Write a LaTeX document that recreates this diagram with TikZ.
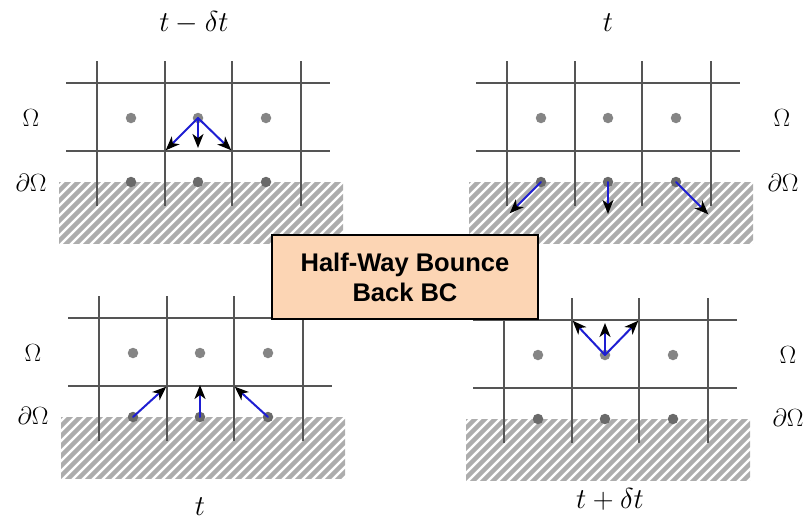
\documentclass[tikz,border=0pt]{standalone}
\usepackage[no-math]{fontspec}
\usepackage{graphicx}
\newfontfamily\boxfont{Liberation Sans}
\usetikzlibrary{arrows.meta}
\definecolor{gridc}{HTML}{555555}
\definecolor{hatchc}{HTML}{ADADAD}
\definecolor{dotin}{HTML}{858585}
\definecolor{dotbd}{HTML}{6A6A6A}
\definecolor{flowc}{RGB}{30,30,210}
\definecolor{boxc}{HTML}{FCD5B4}
\tikzset{
  gridline/.style={draw=gridc, line width=1.8pt},
  hatchline/.style={draw=hatchc, line width=4.4pt},
  dotstyle/.style={circle, inner sep=0pt, minimum size=10.5pt},
  dotinner/.style={dotstyle, fill=dotin},
  dotbound/.style={dotstyle, fill=dotbd},
  flow/.style={draw=flowc, line width=2pt, line cap=round,
    -{Stealth[length=14pt,width=11pt,inset=4pt,color=black]}, shorten >=1pt},
  lab/.style={font=\fontsize{24.88}{30}\selectfont, inner sep=0pt},
  panel/.pic={
    \begin{scope}
      \clip (-38,99) rectangle (246,160);
      \foreach \i in {-110,-100,...,250}
        \draw[hatchline] (\i,170) -- ++(80,-80);
    \end{scope}
    \foreach \x in {0,68,135,204}
      \draw[gridline] (\x,-22) -- (\x,123);
    \foreach \y in {0,68}
      \draw[gridline] (-31,\y) -- (233,\y);
    \node[dotinner] (-a1) at (34,35) {};
    \node[dotinner] (-a2) at (101,35) {};
    \node[dotinner] (-a3) at (169,35) {};
    \node[dotbound] (-b1) at (34,99) {};
    \node[dotbound] (-b2) at (101,99) {};
    \node[dotbound] (-b3) at (169,99) {};
    \coordinate (-u1) at (68,0);
    \coordinate (-u2) at (101,2);
    \coordinate (-u3) at (135,0);
    \coordinate (-k1) at (68,68);
    \coordinate (-k2) at (101,66);
    \coordinate (-k3) at (135,68);
    \coordinate (-q1) at (2,131);
    \coordinate (-q2) at (101,132);
    \coordinate (-q3) at (202,132);
  }
}
\begin{document}
\begin{tikzpicture}[x=1pt,y=-1pt]
\useasboundingbox (0,0) rectangle (804,522);

\pic (tl) at (97,83) {panel};
\pic (tr) at (507,83) {panel};
\pic (bl) at (99,318) {panel};
\pic (br) at (504,320) {panel};

% arrows
\draw[flow] (tl-a2.center) -- (tl-k1);
\draw[flow] (tl-a2.center) -- (tl-k2);
\draw[flow] (tl-a2.center) -- (tl-k3);

\draw[flow] (tr-b1.center) -- (tr-q1);
\draw[flow] (tr-b2.center) -- (tr-q2);
\draw[flow] (tr-b3.center) -- (tr-q3);

\draw[flow] (bl-b1.center) -- (bl-k1);
\draw[flow] (bl-b2.center) -- (bl-k2);
\draw[flow] (bl-b3.center) -- (bl-k3);

\draw[flow] (br-a2.center) -- (br-u1);
\draw[flow] (br-a2.center) -- (br-u2);
\draw[flow] (br-a2.center) -- (br-u3);

% labels
\node[lab] (tlO) at (31,118) {$\Omega$};
\node[lab] (tlD) at (31,183) {$\partial\Omega$};
\node[lab] (trO) at (782,118) {$\Omega$};
\node[lab] (trD) at (783,183) {$\partial\Omega$};
\node[lab] (blO) at (33,353) {$\Omega$};
\node[lab] (blD) at (33,416) {$\partial\Omega$};
\node[lab] (brO) at (788,355) {$\Omega$};
\node[lab] (brD) at (788,418) {$\partial\Omega$};

\node[lab] (tlT) at (194,23) {\scalebox{1.16}{$t-\delta t$}};
\node[lab] (trT) at (608,23) {\scalebox{1.16}{$t$}};
\node[lab] (blT) at (200,507) {\scalebox{1.16}{$t$}};
\node[lab] (brT) at (610,499) {\scalebox{1.16}{$t+\delta t$}};

% central box
\node[draw=black, line width=1.5pt, fill=boxc, minimum width=266pt,
      minimum height=84pt, align=center, inner sep=0pt,
      font=\boxfont\bfseries\fontsize{25.5}{30}\selectfont]
  (bc) at (405,277) {Half-Way Bounce\\Back BC};
\end{tikzpicture}
\end{document}
